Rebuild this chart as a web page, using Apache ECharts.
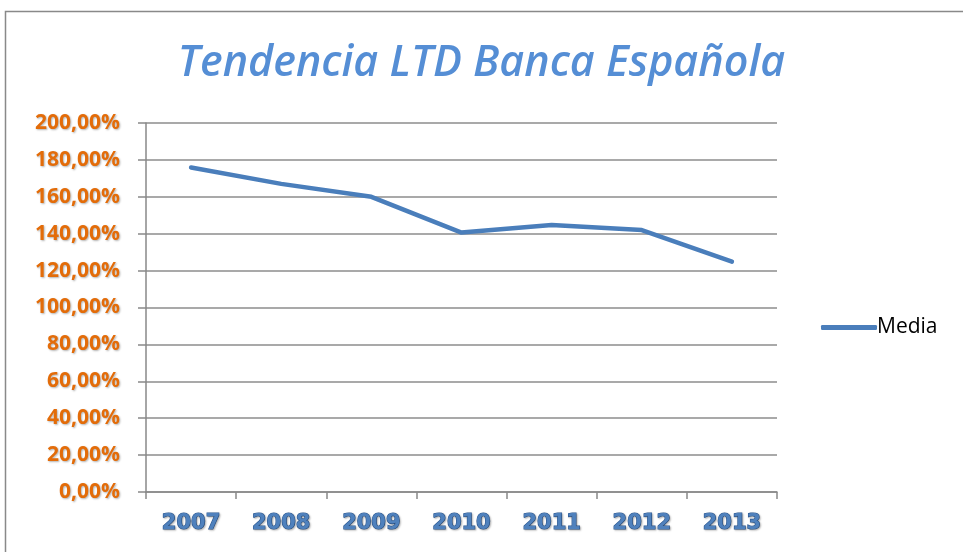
<!DOCTYPE html>
<html>
<head>
<meta charset="utf-8">
<script src="https://cdn.jsdelivr.net/npm/echarts@6/dist/echarts.min.js"></script>
<style>
html, body { margin: 0; padding: 0; background: #fff; }
#chart { width: 963px; height: 552px; }
</style>
</head>
<body>
<div id="chart"></div>
<script>
var years = ['2007', '2008', '2009', '2010', '2011', '2012', '2013'];
var media = [175.9, 167, 160, 140.6, 144.7, 142, 124.9];

var chart = echarts.init(document.getElementById('chart'));
chart.setOption({
  animation: false,
  graphic: [{
    type: 'rect',
    shape: { x: 5.5, y: 11.5, width: 1000, height: 600 },
    style: { fill: 'none', stroke: '#898989', lineWidth: 1.5 },
    silent: true
  }],
  title: {
    text: 'Tendencia LTD Banca Española',
    left: 'center',
    top: 37,
    textStyle: {
      fontFamily: 'Open Sans',
      fontStyle: 'italic',
      fontWeight: 600,
      fontSize: 43,
      color: '#558ED5'
    }
  },
  legend: {
    data: ['Media'],
    orient: 'vertical',
    left: 816,
    top: 312,
    itemWidth: 56,
    itemHeight: 5,
    itemGap: 4,
    textStyle: { fontFamily: 'Open Sans', fontSize: 21, color: '#000', padding: [0, 0, 0, -5] },
    icon: 'roundRect'
  },
  grid: { left: 146, right: 186, top: 123, bottom: 60 },
  xAxis: {
    type: 'category',
    data: years,
    boundaryGap: true,
    axisLine: { lineStyle: { color: '#898989', width: 1.5 } },
    axisTick: { show: true, length: 7, lineStyle: { color: '#898989', width: 1.5 } },
    axisLabel: {
      margin: 21,
      fontFamily: 'DejaVu Sans',
      fontWeight: 'bold',
      fontSize: 21,
      color: '#4F81BD',
      textBorderColor: '#2E5A93',
      textBorderWidth: 1.2,
      textShadowColor: 'rgba(0,0,0,0.25)',
      textShadowBlur: 2,
      textShadowOffsetX: 1,
      textShadowOffsetY: 1
    }
  },
  yAxis: {
    type: 'value',
    min: 0,
    max: 200,
    interval: 20,
    axisLine: { show: true, lineStyle: { color: '#898989', width: 1.5 } },
    axisTick: { show: true, length: 8, lineStyle: { color: '#898989', width: 1.5 } },
    splitLine: { lineStyle: { color: '#8C8C8C', width: 1.5 } },
    axisLabel: {
      margin: 26,
      fontFamily: 'Open Sans',
      fontWeight: 'bold',
      fontSize: 21,
      color: '#E36C09',
      textShadowColor: 'rgba(0,0,0,0.3)',
      textShadowBlur: 2,
      textShadowOffsetX: 1,
      textShadowOffsetY: 1,
      formatter: function (v) { return v.toFixed(2).replace('.', ',') + '%'; }
    }
  },
  series: [{
    name: 'Media',
    type: 'line',
    data: media,
    symbol: 'none',
    lineStyle: { color: '#4A7EBB', width: 4.5, cap: 'round', join: 'round' },
    itemStyle: { color: '#4A7EBB' }
  }]
});
</script>
</body>
</html>
